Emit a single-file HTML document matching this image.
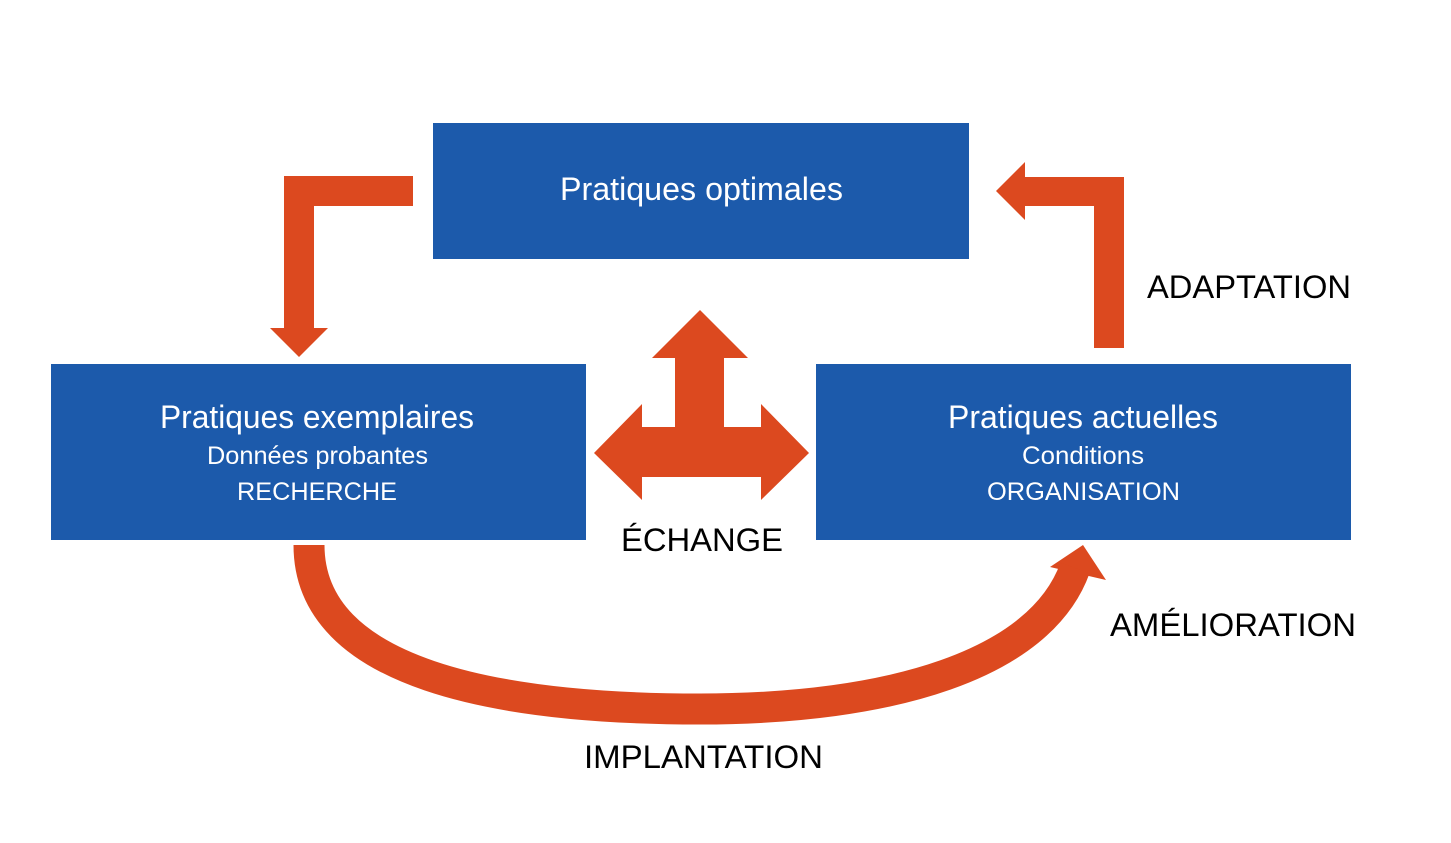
<!DOCTYPE html>
<html><head><meta charset="utf-8"><style>html,body{margin:0;padding:0;background:#fff}svg{display:block}</style></head>
<body>
<svg width="1451" height="843" viewBox="0 0 1451 843" xmlns="http://www.w3.org/2000/svg" font-family="Liberation Sans, sans-serif">
<rect x="433" y="123" width="536" height="136" fill="#1c5aab"/>
<rect x="51" y="364" width="535" height="176" fill="#1c5aab"/>
<rect x="816" y="364" width="535" height="176" fill="#1c5aab"/>
<g fill="#dc491f">
<polygon points="284,176 413,176 413,206 314,206 314,328 328,328 299,357 270,328 284,328"/>
<polygon points="1124,177 1124,348 1094,348 1094,206 1025,206 1025,220 996,191 1025,162 1025,177"/>
<polygon points="700,310 748,358 724,358 724,427 761,427 761,404 809,453 761,500 761,477 642,477 642,500 594,453 642,404 642,427 675,427 675,358 652,358"/>
<polygon points="1083,545 1106,580 1050,567"/>
</g>
<path d="M309,545 C309,675 500,709 700,709 C890,709 1040,665 1075,568" fill="none" stroke="#dc491f" stroke-width="31"/>
<g fill="#fff" text-anchor="start">
<text x="560" y="200" font-size="32" textLength="283" lengthAdjust="spacingAndGlyphs">Pratiques optimales</text>
<text x="160" y="428" font-size="32" textLength="314" lengthAdjust="spacingAndGlyphs">Pratiques exemplaires</text>
<text x="207" y="464" font-size="25" textLength="221" lengthAdjust="spacingAndGlyphs">Données probantes</text>
<text x="237" y="500" font-size="25" textLength="160" lengthAdjust="spacingAndGlyphs">RECHERCHE</text>
<text x="948" y="428" font-size="32" textLength="270" lengthAdjust="spacingAndGlyphs">Pratiques actuelles</text>
<text x="1022" y="464" font-size="25" textLength="122" lengthAdjust="spacingAndGlyphs">Conditions</text>
<text x="987" y="500" font-size="25" textLength="193" lengthAdjust="spacingAndGlyphs">ORGANISATION</text>
</g>
<g fill="#000" font-size="32">
<text x="1147" y="298" textLength="204" lengthAdjust="spacingAndGlyphs">ADAPTATION</text>
<text x="621" y="551" textLength="162" lengthAdjust="spacingAndGlyphs">ÉCHANGE</text>
<text x="1110" y="636" textLength="246" lengthAdjust="spacingAndGlyphs">AMÉLIORATION</text>
<text x="584" y="768" textLength="239" lengthAdjust="spacingAndGlyphs">IMPLANTATION</text>
</g>
</svg>
</body></html>
